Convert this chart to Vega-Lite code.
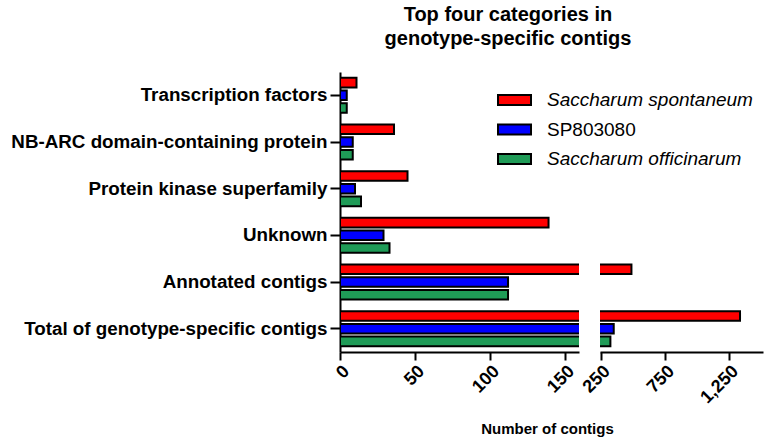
{
  "$schema": "https://vega.github.io/schema/vega-lite/v6.json",
  "background": "white",
  "padding": {"left": 10, "top": 5, "right": 5, "bottom": 5},
  "bounds": "flush",
  "spacing": 21,
  "title": {
    "text": ["Top four categories in", "genotype-specific contigs"],
    "font": "Liberation Sans",
    "fontSize": 20,
    "fontWeight": "bold",
    "color": "black",
    "anchor": "middle",
    "lineHeight": 24,
    "offset": 23,
    "dx": 121
  },
  "config": {
    "view": {"stroke": null},
    "font": "Liberation Sans"
  },
  "data": {
    "values": [
      {"category": "Transcription factors", "genotype": "Saccharum spontaneum", "count": 11},
      {"category": "Transcription factors", "genotype": "SP803080", "count": 4.5},
      {"category": "Transcription factors", "genotype": "Saccharum officinarum", "count": 4.5},
      {"category": "NB-ARC domain-containing protein", "genotype": "Saccharum spontaneum", "count": 36},
      {"category": "NB-ARC domain-containing protein", "genotype": "SP803080", "count": 8.5},
      {"category": "NB-ARC domain-containing protein", "genotype": "Saccharum officinarum", "count": 8.5},
      {"category": "Protein kinase superfamily", "genotype": "Saccharum spontaneum", "count": 45},
      {"category": "Protein kinase superfamily", "genotype": "SP803080", "count": 10},
      {"category": "Protein kinase superfamily", "genotype": "Saccharum officinarum", "count": 14},
      {"category": "Unknown", "genotype": "Saccharum spontaneum", "count": 139},
      {"category": "Unknown", "genotype": "SP803080", "count": 29},
      {"category": "Unknown", "genotype": "Saccharum officinarum", "count": 33},
      {"category": "Annotated contigs", "genotype": "Saccharum spontaneum", "count": 490},
      {"category": "Annotated contigs", "genotype": "SP803080", "count": 112},
      {"category": "Annotated contigs", "genotype": "Saccharum officinarum", "count": 112},
      {"category": "Total of genotype-specific contigs", "genotype": "Saccharum spontaneum", "count": 1336},
      {"category": "Total of genotype-specific contigs", "genotype": "SP803080", "count": 352},
      {"category": "Total of genotype-specific contigs", "genotype": "Saccharum officinarum", "count": 326}
    ]
  },
  "hconcat": [
    {
      "width": 239,
      "height": 280,
      "mark": {"type": "bar", "clip": true, "stroke": "black", "strokeWidth": 2},
      "encoding": {
        "y": {
          "field": "category",
          "type": "nominal",
          "sort": ["Transcription factors", "NB-ARC domain-containing protein", "Protein kinase superfamily", "Unknown", "Annotated contigs", "Total of genotype-specific contigs"],
          "scale": {"paddingInner": 0.25, "paddingOuter": 0.125},
          "axis": {
            "title": null,
            "labelFontSize": 18.8,
            "labelFontWeight": "bold",
            "labelColor": "black",
            "labelLimit": 0,
            "labelPadding": 3,
            "tickSize": 10,
            "tickWidth": 2,
            "tickColor": "black",
            "domainColor": "black",
            "domainWidth": 2
          }
        },
        "yOffset": {
          "field": "genotype",
          "type": "nominal",
          "sort": ["Saccharum spontaneum", "SP803080", "Saccharum officinarum"],
          "scale": {"paddingInner": 0.25, "paddingOuter": 0}
        },
        "x": {
          "field": "count",
          "type": "quantitative",
          "scale": {"domain": [0, 159.3], "nice": false, "zero": true},
          "axis": {
            "values": [0, 50, 100, 150],
            "grid": false,
            "labelAngle": -45,
            "labelFontSize": 18,
            "labelFontWeight": "bold",
            "labelColor": "black",
            "tickSize": 8,
            "tickWidth": 2,
            "tickColor": "black",
            "domainColor": "black",
            "domainWidth": 2,
            "title": "Number of contigs",
            "titleFontSize": 15,
            "titleFontWeight": "bold",
            "titleColor": "black",
            "titleX": 207,
            "titleY": 76,
            "titleAlign": "center",
            "titleBaseline": "middle"
          }
        },
        "color": {
          "field": "genotype",
          "type": "nominal",
          "sort": ["Saccharum spontaneum", "SP803080", "Saccharum officinarum"],
          "scale": {"domain": ["Saccharum spontaneum", "SP803080", "Saccharum officinarum"], "range": ["#ff0000", "#0000ff", "#1f9b57"]},
          "legend": {
            "title": null,
            "orient": "none",
            "legendX": 157,
            "legendY": 18,
            "symbolType": "M-1,-0.3H1V0.3H-1Z",
            "symbolSize": 1089,
            "symbolStrokeColor": "black",
            "symbolStrokeWidth": 2,
            "symbolOpacity": 1,
            "labelFontSize": 19,
            "labelColor": "black",
            "labelLimit": 0,
            "labelOffset": 15,
            "clipHeight": 20,
            "rowPadding": 9.5,
            "encode": {
              "labels": {
                "update": {
                  "fontStyle": {"signal": "datum.label === 'SP803080' ? 'normal' : 'italic'"}
                }
              }
            }
          }
        }
      }
    },
    {
      "width": 163,
      "height": 280,
      "mark": {"type": "bar", "clip": true, "stroke": "black", "strokeWidth": 2},
      "encoding": {
        "y": {
          "field": "category",
          "type": "nominal",
          "sort": ["Transcription factors", "NB-ARC domain-containing protein", "Protein kinase superfamily", "Unknown", "Annotated contigs", "Total of genotype-specific contigs"],
          "scale": {"paddingInner": 0.25, "paddingOuter": 0.125},
          "axis": null
        },
        "yOffset": {
          "field": "genotype",
          "type": "nominal",
          "sort": ["Saccharum spontaneum", "SP803080", "Saccharum officinarum"],
          "scale": {"paddingInner": 0.25, "paddingOuter": 0}
        },
        "x": {
          "field": "count",
          "type": "quantitative",
          "scale": {"domain": [245, 1515], "nice": false, "zero": false},
          "axis": {
            "values": [250, 750, 1250],
            "format": ",.0f",
            "grid": false,
            "labelAngle": -45,
            "labelFontSize": 18,
            "labelFontWeight": "bold",
            "labelColor": "black",
            "tickSize": 8,
            "tickWidth": 2,
            "tickColor": "black",
            "domainColor": "black",
            "domainWidth": 2,
            "title": null
          }
        },
        "color": {
          "field": "genotype",
          "type": "nominal",
          "sort": ["Saccharum spontaneum", "SP803080", "Saccharum officinarum"],
          "scale": {"domain": ["Saccharum spontaneum", "SP803080", "Saccharum officinarum"], "range": ["#ff0000", "#0000ff", "#1f9b57"]},
          "legend": null
        }
      }
    }
  ],
  "resolve": {"scale": {"x": "independent"}}
}
